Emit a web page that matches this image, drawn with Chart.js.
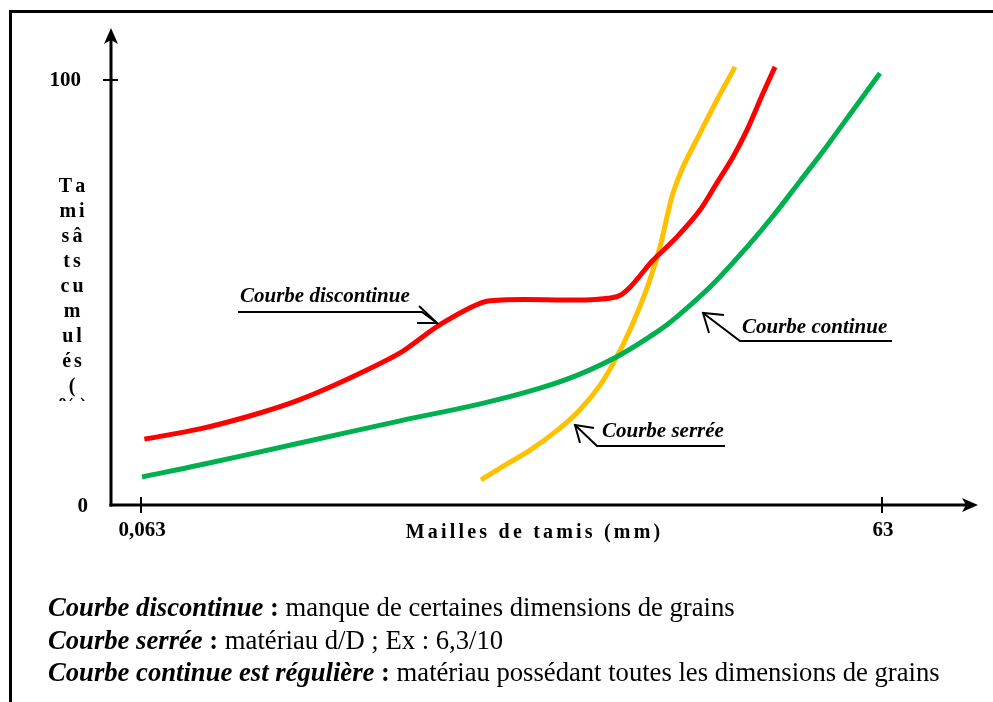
<!DOCTYPE html>
<html>
<head>
<meta charset="utf-8">
<script src="https://cdn.jsdelivr.net/npm/chart.js@4"></script>
<style>
html,body{margin:0;padding:0;background:#fff;}
#wrap{position:relative;width:993px;height:702px;overflow:hidden;background:#fff;}
#c{position:absolute;left:0;top:0;}
#notes{position:absolute;left:48px;top:591px;font-family:"Liberation Serif","Times New Roman",serif;font-size:26.65px;line-height:32.5px;color:#000;white-space:nowrap;}
#notes b{font-weight:bold;}
</style>
</head>
<body>
<div id="wrap">
<canvas id="c" width="993" height="702"></canvas>
<div id="notes">
<div><b><i>Courbe discontinue</i> :</b> manque de certaines dimensions de grains</div>
<div><b><i>Courbe serrée</i> :</b> matériau d/D ; Ex : 6,3/10</div>
<div><b><i>Courbe continue est régulière</i> :</b> matériau possédant toutes les dimensions de grains</div>
</div>
</div>
<script>
// ---------- data ----------
const xTickValues = [0.063, 63];
const xTickLabels = ['0,063', '63'];
const yTickValues = [0, 100];
const yTickLabels = ['0', '100'];
const xAxisTitle = 'Mailles de tamis (mm)';
const yAxisTitleLines = ['Ta', 'mi', 'sâ', 'ts', 'cu', 'm', 'ul', 'és', '(', '%)'];
const seriesNames = ['Courbe discontinue', 'Courbe continue', 'Courbe serrée'];

// mesh size (mm) and cumulative passing (%)
const discontinueX = [0.065, 0.109, 0.182, 0.277, 0.442, 0.705, 1.02, 1.60, 5.31, 7.45, 9.32, 11.55, 13.53, 15.71, 17.89, 20.78, 23.24];
const discontinueY = [15.5, 17.9, 21.3, 24.8, 29.9, 35.8, 42.4, 48.0, 49.0, 57.6, 63.1, 69.4, 75.8, 81.9, 88.2, 96.9, 103.1];

const continueX = [0.0636, 0.109, 0.277, 0.705, 1.49, 2.60, 3.77, 5.48, 7.95, 9.58, 13.04, 17.89, 22.82, 29.33, 37.73, 48.07, 61.83];
const continueY = [6.6, 9.4, 14.6, 19.8, 23.8, 27.5, 30.8, 35.3, 41.2, 44.9, 52.0, 60.7, 68.0, 76.2, 84.5, 92.9, 101.6];

const serreeX = [1.50, 1.79, 2.37, 3.13, 3.77, 4.55, 5.23, 6.01, 7.05, 7.95, 8.49, 8.98, 9.85, 11.55, 13.53, 16.01];
const serreeY = [5.9, 8.7, 12.9, 18.1, 22.4, 28.2, 34.1, 41.2, 51.1, 60.7, 67.8, 73.4, 79.5, 87.5, 95.3, 103.1];

// axis extents
const xMin = 0.04762, xMax = 154.2;
const yMin = 0, yMax = 112.24;

// ---------- helpers ----------
function pts(xs, ys) { return xs.map((x, i) => ({ x: x, y: ys[i] })); }
const SERIF = '"Liberation Serif","Times New Roman",serif';

function spacedText(ctx, text, cx, cy, sp) {
  const chars = Array.from(text);
  const ws = chars.map(c => ctx.measureText(c).width);
  const total = ws.reduce((a, b) => a + b, 0) + sp * (chars.length - 1);
  let x = cx - total / 2;
  ctx.textAlign = 'left';
  chars.forEach((c, i) => { ctx.fillText(c, x, cy); x += ws[i] + sp; });
}
function line(ctx, p) {
  ctx.beginPath();
  ctx.moveTo(p[0][0], p[0][1]);
  for (let i = 1; i < p.length; i++) ctx.lineTo(p[i][0], p[i][1]);
  ctx.stroke();
}

const decorPlugin = {
  id: 'decor',
  afterDatasetsDraw(chart) {
    const ctx = chart.ctx;
    const xs = chart.scales.x, ys = chart.scales.y;
    const ca = chart.chartArea;
    const ox = ca.left, oy = ys.getPixelForValue(0);
    ctx.save();
    ctx.fillStyle = '#000';
    ctx.strokeStyle = '#000';

    // frame
    ctx.fillRect(9, 10, 1000, 3);
    ctx.fillRect(9, 10, 3, 800);

    // axes
    ctx.lineWidth = 3;
    ctx.lineCap = 'butt';
    line(ctx, [[ox, oy + 1.5], [ox, ca.top + 10]]);
    line(ctx, [[ox - 1.5, oy], [ca.right - 10, oy]]);
    ctx.beginPath();
    ctx.moveTo(ox, ca.top); ctx.lineTo(ox - 7, ca.top + 16); ctx.lineTo(ox, ca.top + 12); ctx.lineTo(ox + 7, ca.top + 16); ctx.closePath(); ctx.fill();
    ctx.beginPath();
    ctx.moveTo(ca.right, oy); ctx.lineTo(ca.right - 16, oy - 7); ctx.lineTo(ca.right - 12, oy); ctx.lineTo(ca.right - 16, oy + 7); ctx.closePath(); ctx.fill();

    // ticks
    ctx.lineWidth = 2;
    yTickValues.forEach(v => {
      if (v === yMin) return;
      const py = ys.getPixelForValue(v);
      line(ctx, [[ox - 8, py], [ox + 7, py]]);
    });
    xTickValues.forEach(v => {
      const px = xs.getPixelForValue(v);
      line(ctx, [[px, oy - 8], [px, oy + 8]]);
    });

    // tick labels
    ctx.font = 'bold 21px ' + SERIF;
    ctx.textBaseline = 'middle';
    ctx.textAlign = 'right';
    yTickValues.forEach((v, i) => {
      ctx.fillText(yTickLabels[i], v === 0 ? 88 : 81, ys.getPixelForValue(v) + (v === 0 ? 2 : 1));
    });
    ctx.textAlign = 'center';
    xTickValues.forEach((v, i) => {
      ctx.fillText(xTickLabels[i], xs.getPixelForValue(v) + 1, oy + 26);
    });

    // axis titles
    ctx.font = 'bold 20px ' + SERIF;
    spacedText(ctx, xAxisTitle, 533, oy + 28, 3.2);
    yAxisTitleLines.forEach((t, i) => {
      if (i === yAxisTitleLines.length - 1) {
        ctx.save();
        ctx.beginPath(); ctx.rect(40, 395, 80, 6); ctx.clip();
        spacedText(ctx, t, 72, 187 + i * 25.0 - 5, 3);
        ctx.restore();
      } else {
        spacedText(ctx, t, 72, 187 + i * 25.0, 3);
      }
    });

    // annotations
    ctx.font = 'italic bold 21px ' + SERIF;
    ctx.textBaseline = 'alphabetic';
    ctx.textAlign = 'left';
    ctx.fillText(seriesNames[0], 240, 302);
    ctx.fillText(seriesNames[1], 742, 333);
    ctx.fillText(seriesNames[2], 602, 437);

    ctx.lineWidth = 2;
    ctx.lineJoin = 'miter';
    line(ctx, [[238, 312], [422, 312], [437, 323]]);
    line(ctx, [[419, 306], [437, 323], [417, 323]]);
    line(ctx, [[892, 341], [740, 341], [703, 313]]);
    line(ctx, [[724, 315], [703, 313], [709, 333]]);
    line(ctx, [[725, 446], [597, 446], [575, 425]]);
    line(ctx, [[594, 428], [575, 425], [580, 443]]);

    ctx.restore();
  }
};

new Chart(document.getElementById('c'), {
  type: 'line',
  data: {
    datasets: [
      { label: seriesNames[0], data: pts(discontinueX, discontinueY), borderColor: '#FF0000', tension: 0.25 },
      { label: seriesNames[1], data: pts(continueX, continueY), borderColor: '#00B050', tension: 0.35 },
      { label: seriesNames[2], data: pts(serreeX, serreeY), borderColor: '#FFC000', tension: 0.3 }
    ]
  },
  options: {
    responsive: false,
    animation: false,
    devicePixelRatio: 1,
    layout: { padding: { left: 111, right: 15, top: 28, bottom: 197 } },
    elements: {
      line: { borderWidth: 5, fill: false, borderCapStyle: 'butt', borderJoinStyle: 'round' },
      point: { radius: 0, hoverRadius: 0 }
    },
    plugins: { legend: { display: false }, tooltip: { enabled: false } },
    scales: {
      x: { type: 'logarithmic', min: xMin, max: xMax, display: false },
      y: { type: 'linear', min: yMin, max: yMax, display: false }
    }
  },
  plugins: [decorPlugin]
});
</script>
</body>
</html>
